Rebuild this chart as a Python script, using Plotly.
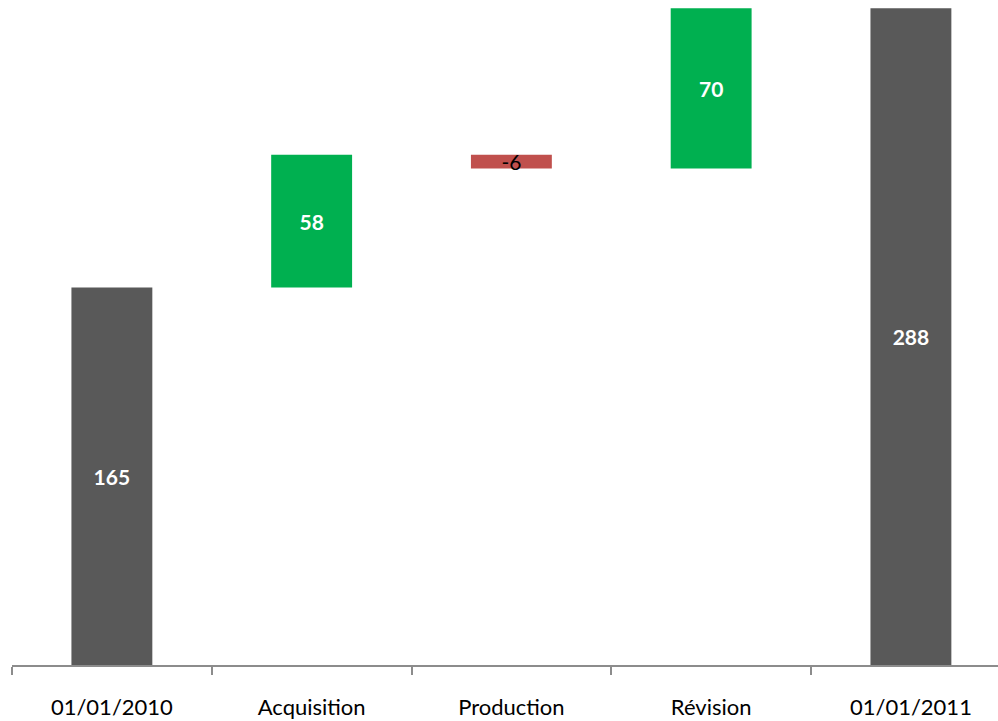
import plotly.graph_objects as go

categories = ["01/01/2010", "Acquisition", "Production", "Révision", "01/01/2011"]
values = [165, 58, -6, 70, 288]
measures = ["absolute", "relative", "relative", "relative", "total"]
labels = ["165", "58", "-6", "70", "288"]
label_colors = ["white", "white", "black", "white", "white"]
label_bold = [True, True, False, True, True]

texts = [f"<b>{t}</b>" if b else t for t, b in zip(labels, label_bold)]

fig = go.Figure(go.Waterfall(
    x=categories,
    y=values,
    measure=measures,
    text=texts,
    textposition="inside",
    insidetextanchor="middle",
    constraintext="none",
    textangle=0,
    textfont=dict(family="Lato, 'Open Sans', sans-serif", size=21, color=label_colors),
    increasing=dict(marker=dict(color="#00B050")),
    decreasing=dict(marker=dict(color="#C0504D")),
    totals=dict(marker=dict(color="#595959")),
    connector=dict(visible=False),
    width=0.405,
    hoverinfo="x+y",
))

fig.update_layout(
    width=998, height=721,
    margin=dict(l=12, r=0, t=0, b=56),
    paper_bgcolor="white", plot_bgcolor="white",
    showlegend=False,
    xaxis=dict(
        range=[-0.5, 4.436],
        tickson="boundaries",
        ticks="outside", ticklen=8, tickwidth=2, tickcolor="#8C8C8C",
        showline=True, linecolor="#8C8C8C", linewidth=2,
        showgrid=False,
        tickfont=dict(family="Lato, 'Open Sans', sans-serif", size=22, color="black"),
        ticklabelstandoff=22,
    ),
    yaxis=dict(range=[0, 290.6], visible=False, showgrid=False, zeroline=False),
)

fig.write_html("out.html")
